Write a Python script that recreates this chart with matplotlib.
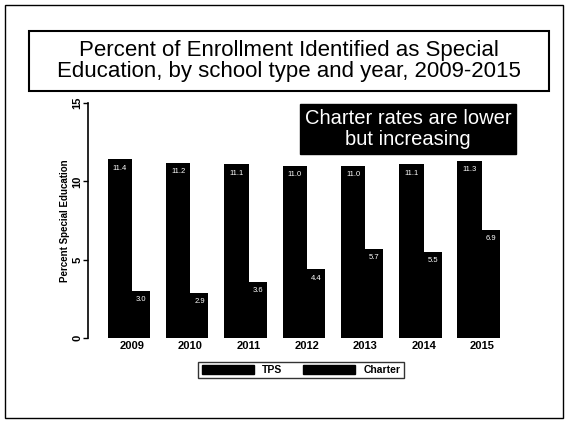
import matplotlib
matplotlib.use("Agg")
import matplotlib.pyplot as plt
from matplotlib.patches import Rectangle, Patch

years = ["2009", "2010", "2011", "2012", "2013", "2014", "2015"]
tps = [11.4, 11.2, 11.1, 11.0, 11.0, 11.1, 11.3]
charter = [3.0, 2.9, 3.6, 4.4, 5.7, 5.5, 6.9]
series_names = ["TPS", "Charter"]
yticks = [0, 5, 10, 15]

plt.rcParams['font.family'] = ['Liberation Sans', 'DejaVu Sans']

W, H = 569, 422
fig = plt.figure(figsize=(W / 100, H / 100), dpi=100)

def fx(px):
    return px / W

def fy(py):
    return 1 - py / H

# outer frame
fig.patches.append(Rectangle((fx(5), fy(418)), fx(558), 413 / H, transform=fig.transFigure,
                             fill=False, edgecolor='black', linewidth=1.0))
# title box
fig.patches.append(Rectangle((fx(29), fy(91)), fx(520), 60 / H, transform=fig.transFigure,
                             fill=False, edgecolor='black', linewidth=1.5))
fig.text(fx(289), fy(61), "Percent of Enrollment Identified as Special\nEducation, by school type and year, 2009-2015",
         ha='center', va='center', fontsize=16, linespacing=1.05)

x0, x1 = 88, 526
y0, y1 = 338, 103
ax = fig.add_axes([fx(x0), fy(y0), (x1 - x0) / W, (y0 - y1) / H])
xs = list(range(len(years)))
w_t, w_c = 0.42, 0.31
ax.bar([x - w_t / 2 for x in xs], tps, width=w_t, color='black')
ax.bar([x + w_c / 2 for x in xs], charter, width=w_c, color='black')
for x, v in zip(xs, tps):
    ax.text(x - w_t / 2, v - 0.35, f"{v:.1f}", color='white', ha='center', va='top', fontsize=5.5)
for x, v in zip(xs, charter):
    ax.text(x + w_c / 2, v - 0.35, f"{v:.1f}", color='white', ha='center', va='top', fontsize=5.5)

ax.set_xlim(-0.755, 6.755)
ax.set_ylim(0, 15)
ax.set_yticks(yticks)
ax.set_yticklabels([str(t) for t in yticks], rotation=90, va='center', fontsize=8, fontweight='bold')
ax.set_xticks(xs)
ax.set_xticklabels(years, fontsize=8, fontweight='bold')
ax.tick_params(axis='x', length=0, pad=2)
ax.tick_params(axis='y', length=3.5, width=1, pad=0.5)
for s in ['top', 'right', 'bottom']:
    ax.spines[s].set_visible(False)
ax.spines['left'].set_linewidth(1.2)
ax.set_ylabel("Percent Special Education", fontsize=7, fontweight='bold', labelpad=2)
ax.patch.set_alpha(0)

# annotation box
fig.text(fx(408), fy(129), "Charter rates are lower\nbut increasing", ha='center', va='center',
         fontsize=14.5, color='white', linespacing=1.1,
         bbox=dict(boxstyle='square,pad=0.25', facecolor='black', edgecolor='black'))

# legend
handles = [Patch(facecolor='black', edgecolor='black'), Patch(facecolor='black', edgecolor='black')]
leg = fig.legend(handles, series_names, loc='center', bbox_to_anchor=(fx(301), fy(370)), ncol=2,
                 frameon=True, fancybox=False, edgecolor='black',
                 prop={'weight': 'bold', 'size': 7.5}, handlelength=5, handleheight=1.0,
                 borderpad=0.3, columnspacing=2.0, handletextpad=0.8)
leg.get_frame().set_linewidth(1.0)

fig.savefig("out.png", dpi=100)
